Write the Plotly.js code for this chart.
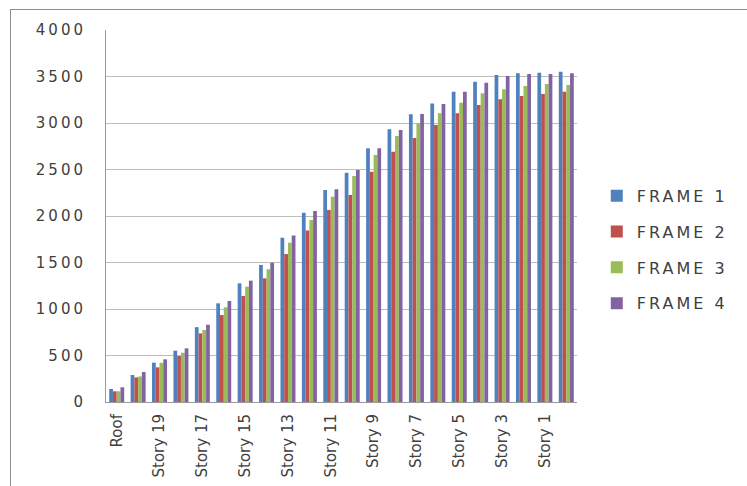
<!DOCTYPE html>
<html>
<head>
<meta charset="utf-8">
<script src="https://cdn.plot.ly/plotly-3.0.1.min.js"></script>
<style>
  html, body { margin: 0; padding: 0; background: #ffffff; }
  #wrap { position: relative; width: 747px; height: 486px; overflow: hidden; }
  #chart { position: absolute; left: 0; top: 0; width: 747px; height: 486px; }
  #frame { position: absolute; left: 10px; top: 9px; width: 760px; height: 500px;
           border-left: 1px solid #8c8c8c; border-top: 1px solid #8c8c8c; pointer-events: none; }
  .ytick text { letter-spacing: 3px; }
  .legendtext { letter-spacing: 3px; }
</style>
</head>
<body>
<div id="wrap">
  <div id="chart"></div>
  <div id="frame"></div>
</div>
<script>
const categories = ["Roof","Story 20","Story 19","Story 18","Story 17","Story 16","Story 15","Story 14",
  "Story 13","Story 12","Story 11","Story 10","Story 9","Story 8","Story 7","Story 6","Story 5",
  "Story 4","Story 3","Story 2","Story 1","Base"];
const tickLabels = ["Roof","Story 19","Story 17","Story 15","Story 13","Story 11","Story 9",
  "Story 7","Story 5","Story 3","Story 1"];
const frame1 = [140, 290, 423, 552, 805, 1061, 1276, 1473, 1767, 2036, 2280, 2466, 2728, 2932, 3095, 3211, 3337, 3444, 3516, 3534, 3541, 3552];
const frame2 = [115, 265, 373, 495, 738, 935, 1140, 1330, 1591, 1845, 2065, 2226, 2477, 2692, 2840, 2978, 3104, 3194, 3255, 3290, 3312, 3337];
const frame3 = [115, 275, 420, 530, 774, 1018, 1240, 1427, 1713, 1957, 2208, 2430, 2656, 2860, 2996, 3104, 3219, 3319, 3362, 3398, 3419, 3409];
const frame4 = [158, 322, 459, 577, 831, 1086, 1305, 1498, 1789, 2054, 2287, 2495, 2728, 2925, 3097, 3204, 3337, 3434, 3505, 3527, 3527, 3534];
const seriesNames = ["FRAME 1","FRAME 2","FRAME 3","FRAME 4"];
const seriesColors = ["#4F81BD","#C0504D","#9BBB59","#8064A2"];
const seriesData = [frame1, frame2, frame3, frame4];

const traces = seriesData.map((d, i) => ({
  type: "bar",
  name: seriesNames[i],
  x: categories,
  y: d,
  legendgroup: "g" + i,
  marker: { color: seriesColors[i] }
}));

const layout = {
  width: 747, height: 486,
  margin: { l: 106, r: 170, t: 30, b: 84 },
  paper_bgcolor: "#ffffff",
  plot_bgcolor: "#ffffff",
  barmode: "group",
  bargap: 0.3,
  bargroupgap: 0,
  font: { family: "DejaVu Sans, sans-serif", color: "#404040" },
  showlegend: true,
  legend: {
    x: 1.042, xanchor: "left", y: 0.409, yanchor: "middle",
    font: { size: 16, color: "#404040" },
    tracegroupgap: 12,
    traceorder: "grouped",
    bgcolor: "rgba(0,0,0,0)"
  },
  xaxis: {
    type: "category",
    range: [-0.5, 21.5],
    tickmode: "array",
    tickvals: tickLabels,
    ticktext: tickLabels,
    tickangle: -90,
    tickfont: { size: 15, color: "#404040" },
    ticklabelstandoff: 5,
    showline: true, linecolor: "#9a9a9a", linewidth: 1,
    showgrid: false, ticks: "", fixedrange: true
  },
  yaxis: {
    range: [0, 4000],
    dtick: 500,
    tickfont: { size: 15, color: "#404040" },
    showline: true, linecolor: "#9a9a9a", linewidth: 1,
    showgrid: true, gridcolor: "#bdbdbd", gridwidth: 1,
    zeroline: false, ticks: "",
    ticklabelstandoff: 16
  }
};

Plotly.newPlot("chart", traces, layout, { displayModeBar: false, staticPlot: true });
</script>
</body>
</html>
